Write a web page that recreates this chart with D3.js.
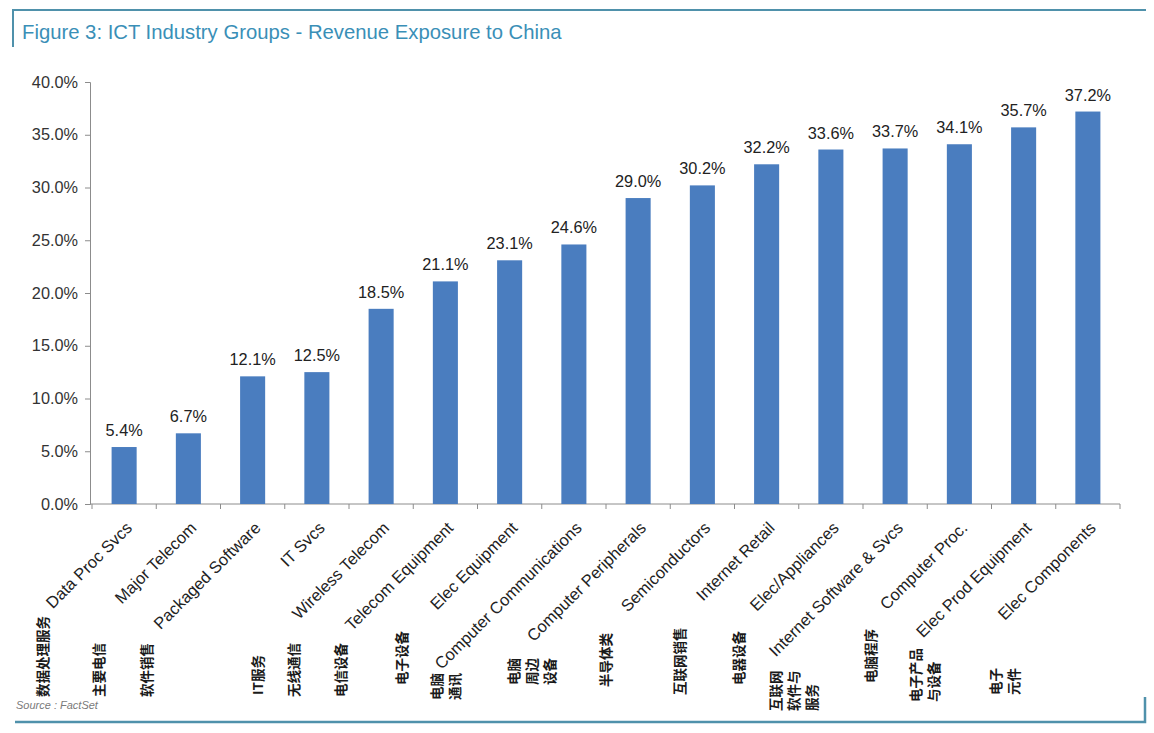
<!DOCTYPE html>
<html>
<head>
<meta charset="utf-8">
<script src="https://cdn.jsdelivr.net/npm/d3@7"></script>
<style>
  body { margin: 0; background: #fff; }
  svg { display: block; font-family: "Liberation Sans", Arial, sans-serif; }
</style>
</head>
<body>
<svg width="1154" height="733"></svg>
<script>
// chart values
var categories = ['Data Proc Svcs', 'Major Telecom', 'Packaged Software', 'IT Svcs',
	'Wireless Telecom', 'Telecom Equipment', 'Elec Equipment', 'Computer Communications',
	'Computer Peripherals', 'Semiconductors', 'Internet Retail', 'Elec/Appliances',
	'Internet Software & Svcs', 'Computer Proc.', 'Elec Prod Equipment', 'Elec Components'];
var exposure = [0.054, 0.067, 0.121, 0.125, 0.185, 0.211, 0.231, 0.246,
	0.290, 0.302, 0.322, 0.336, 0.337, 0.341, 0.357, 0.372];
// chinese captions, one entry per line
var cnLabels = [['数据处理服务'], ['主要电信'], ['软件销售'], ['IT服务'], ['无线通信'],
	['电信设备'], ['电子设备'], ['电脑', '通讯'], ['电脑', '周边', '设备'], ['半导体类'],
	['互联网销售'], ['电器设备'], ['互联网', '软件与', '服务'], ['电脑程序'],
	['电子产品', '与设备'], ['电子', '元件']];
var yTicks = [0, 0.05, 0.10, 0.15, 0.20, 0.25, 0.30, 0.35, 0.40];

// where the chinese captions sit: offset from bar centre, bottom of text
var cnLayout = [[-82, 697], [-90, 697], [-107, 697], [-60, 695], [-88, 697],
	[-105, 697], [-109, 685], [-138, 700], [-125, 685], [-97, 687],
	[-88, 695], [-93, 685], [-120, 711], [-89, 683], [-109, 702], [-93, 695]];

var svg = d3.select('svg');
var teal = '#4f91ab';

// frame lines
svg.append('path')
	.attr('d', 'M13,47V10H1146')
	.attr('fill', 'none')
	.attr('stroke', teal)
	.attr('stroke-width', 2);
svg.append('path')
	.attr('d', 'M15,722H1145V697')
	.attr('fill', 'none')
	.attr('stroke', teal)
	.attr('stroke-width', 2.5);

svg.append('text')
	.attr('x', 22)
	.attr('y', 39)
	.attr('fill', '#3a8fb7')
	.style('font-size', '20.3px')
	.text('Figure 3: ICT Industry Groups - Revenue Exposure to China');

var x = d3.scaleBand()
	.domain(categories)
	.range([92, 1120])
	.paddingInner(0.61)
	.paddingOuter(0.305);
var y = d3.scaleLinear().domain([0, 0.40]).range([504, 82]);

// y axis
var yAxis = svg.append('g')
	.attr('transform', 'translate(90,0)')
	.call(d3.axisLeft(y).tickValues(yTicks).tickFormat(d3.format('.1%')).tickSize(5).tickPadding(7));
yAxis.select('.domain').attr('stroke', '#8c8c8c');
yAxis.selectAll('.tick line').attr('stroke', '#8c8c8c');
yAxis.selectAll('.tick text')
	.attr('fill', '#333')
	.style('font-size', '16.3px')
	.style('font-family', '"Liberation Sans", Arial, sans-serif');

// x axis line with ticks on the band edges
var step = x.step();
var edges = categories.map(function(d) {
	return x(d) - (step - x.bandwidth()) / 2;
});
edges.push(edges[edges.length - 1] + step);
svg.append('line')
	.attr('x1', 90).attr('x2', edges[edges.length - 1])
	.attr('y1', y(0)).attr('y2', y(0))
	.attr('stroke', '#8c8c8c');
svg.selectAll('.xtick')
	.data(edges)
	.enter().append('line')
	.attr('class', 'xtick')
	.attr('x1', function(d) { return d; })
	.attr('x2', function(d) { return d; })
	.attr('y1', y(0))
	.attr('y2', y(0) + 5)
	.attr('stroke', '#8c8c8c');

// bars
svg.selectAll('.bar')
	.data(exposure)
	.enter().append('rect')
	.attr('class', 'bar')
	.attr('x', function(d, i) { return x(categories[i]); })
	.attr('width', x.bandwidth())
	.attr('y', function(d) { return y(d); })
	.attr('height', function(d) { return y(0) - y(d); })
	.attr('fill', '#4a7dbf');

// value labels
svg.selectAll('.val')
	.data(exposure)
	.enter().append('text')
	.attr('class', 'val')
	.attr('x', function(d, i) { return x(categories[i]) + x.bandwidth() / 2; })
	.attr('y', function(d) { return y(d) - 11; })
	.attr('text-anchor', 'middle')
	.attr('fill', '#222')
	.style('font-size', '16.3px')
	.text(d3.format('.1%'));

// english category names, slanted
svg.selectAll('.cat')
	.data(categories)
	.enter().append('text')
	.attr('class', 'cat')
	.attr('transform', function(d) {
		return 'translate(' + (x(d) + x.bandwidth() / 2 + 9) + ',529) rotate(-45)';
	})
	.attr('text-anchor', 'end')
	.attr('fill', '#222')
	.style('font-size', '16.5px')
	.text(function(d) { return d; });

// chinese captions, vertical
var cn = svg.selectAll('.cn')
	.data(cnLabels)
	.enter().append('text')
	.attr('class', 'cn')
	.attr('transform', function(d, i) {
		var cx = x(categories[i]) + x.bandwidth() / 2 + cnLayout[i][0];
		return 'translate(' + cx + ',' + cnLayout[i][1] + ') rotate(-90)';
	})
	.attr('fill', '#1a1a1a')
	.style('font-family', '"Noto Sans CJK SC", sans-serif')
	.style('font-size', '13.5px')
	.style('font-weight', 'bold');
cn.selectAll('tspan')
	.data(function(d) { return d; })
	.enter().append('tspan')
	.attr('x', 0)
	.attr('y', function(d, i) { return i * 18; })
	.attr('dominant-baseline', 'central')
	.text(function(d) { return d; });

svg.append('text')
	.attr('x', 16)
	.attr('y', 709)
	.attr('fill', '#7a7a7a')
	.style('font-size', '11px')
	.style('font-style', 'italic')
	.text('Source : FactSet');
</script>
</body>
</html>
